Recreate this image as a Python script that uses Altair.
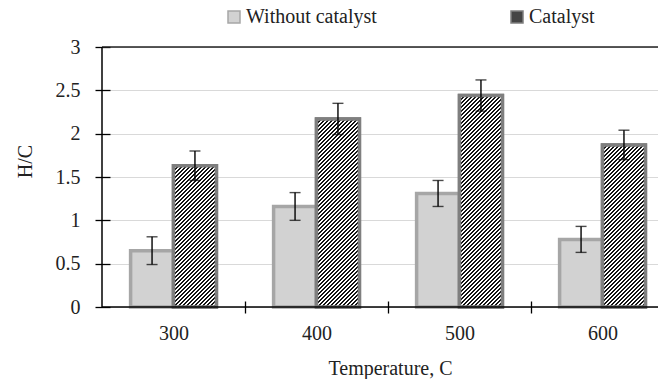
import math
import altair as alt
import pandas as pd

# ---- data ----
temps = ["300", "400", "500", "600"]
series = ["Without catalyst", "Catalyst"]
without = [0.65, 1.16, 1.31, 0.78]
without_err = [0.16, 0.16, 0.15, 0.15]
catalyst = [1.63, 2.17, 2.44, 1.87]
catalyst_err = [0.17, 0.18, 0.18, 0.17]
y_ticks = [0, 0.5, 1, 1.5, 2, 2.5, 3]

# ---- layout ----
W, H = 556, 260
XMIN, XMAX = -0.5, 3.388
BAR = 0.3
FONT = "Liberation Serif, Times New Roman, serif"
TXT = "#222222"

rows = []
for i, t in enumerate(temps):
    rows.append(dict(temp=t, idx=i, series=series[0], value=without[i], err=without_err[i],
                     x0=i - BAR, x1=i, xc=i - BAR / 2))
    rows.append(dict(temp=t, idx=i, series=series[1], value=catalyst[i], err=catalyst_err[i],
                     x0=i, x1=i + BAR, xc=i + BAR / 2))
df = pd.DataFrame(rows)
df["lo"] = df["value"] - df["err"]
df["hi"] = df["value"] + df["err"]
one = pd.DataFrame({"k": [0]})

x_scale = alt.Scale(domain=[XMIN, XMAX], nice=False, zero=False)
y_scale = alt.Scale(domain=[0, 3], nice=False)

label_map = "{" + ",".join(f"'{i}':'{t}'" for i, t in enumerate(temps)) + "}"
x_vals = sorted(set([i for i in range(len(temps))] + [i + 0.5 for i in range(len(temps) - 1)]))

x_axis = alt.Axis(
    values=x_vals, offset=-6, tickSize=12, tickWidth=1.3, tickColor="black",
    tickOpacity={"condition": {"test": "datum.value % 1 === 0", "value": 0}, "value": 1},
    domain=False, grid=False, labelFlush=False, labelOverlap=False,
    labelExpr=f"datum.value % 1 === 0 ? {label_map}[''+datum.value] : ''",
    labelPadding=10, labelFont=FONT, labelFontSize=20, labelColor=TXT,
    title="Temperature, C", titleFont=FONT, titleFontSize=20, titleFontWeight="normal",
    titleColor=TXT, titleX=288, titleY=73, titleBaseline="alphabetic",
)
y_axis = alt.Axis(
    values=y_ticks, offset=-8, tickSize=15, tickWidth=1.3, tickColor="black",
    domain=False, grid=True, gridColor="#d9d9d9", gridWidth=1, format="~g",
    labelPadding=15, labelFont=FONT, labelFontSize=20, labelColor=TXT,
    title="H/C", titleFont=FONT, titleFontSize=20, titleFontWeight="normal",
    titleColor=TXT, titleX=-85, titleY=114, titleBaseline="middle",
)

legend = alt.Legend(
    title=None, orient="none", legendX=122, legendY=-40, direction="horizontal",
    symbolType="square", symbolSize=144, symbolStrokeWidth=1.5,
    labelFont=FONT, labelFontSize=20, labelColor=TXT, labelOffset=2,
    columnPadding=130, padding=0,
)

bars = alt.Chart(df).mark_bar(strokeWidth=3.5).encode(
    x=alt.X("x0:Q", scale=x_scale, axis=x_axis),
    x2="x1:Q",
    y=alt.Y("value:Q", scale=y_scale, axis=y_axis),
    y2=alt.datum(0),
    fill=alt.Fill("series:N", scale=alt.Scale(domain=series, range=["#d2d2d2", "#454545"]), legend=legend),
    stroke=alt.Stroke("series:N", scale=alt.Scale(domain=series, range=["#a6a6a6", "#7f7f7f"]), legend=legend),
)

# striped fill for the catalyst bars (linear gradient with hard stops)
px_per_x = W / (XMAX - XMIN)
wpx = BAR * px_per_x
PERIOD = 4 / math.sqrt(2)  # 4 px horizontal repeat, 45 degree stripes


def stripe_gradient(v):
    h = v / 3 * H
    r = wpx / h
    s = (1 + r) / (1 + r * r)
    L = (wpx + h) / math.sqrt(2)
    step = PERIOD / L
    stops = []
    t = 0.0
    while t < 1:
        a = round(min(t, 1), 6)
        b = round(min(t + step * 0.5, 1), 6)
        c = round(min(t + step, 1), 6)
        stops += [alt.GradientStop(offset=a, color="#111111"),
                  alt.GradientStop(offset=b, color="#111111"),
                  alt.GradientStop(offset=b, color="#ffffff"),
                  alt.GradientStop(offset=c, color="#ffffff")]
        t += step
    return alt.LinearGradient(gradient="linear", x1=0, y1=0, x2=round(r * s, 6), y2=round(s, 6), stops=stops)


cat_layers = []
for i in range(len(temps)):
    cat_layers.append(
        alt.Chart(df).transform_filter(f"datum.series == '{series[1]}' && datum.idx == {i}")
        .mark_bar(fill=stripe_gradient(catalyst[i]), stroke="#7f7f7f", strokeWidth=3.5)
        .encode(x="x0:Q", x2="x1:Q", y="value:Q", y2=alt.datum(0))
    )

err_rule = alt.Chart(df).mark_rule(color="black", strokeWidth=1.4).encode(
    x="xc:Q", y="lo:Q", y2="hi:Q")
cap_lo = alt.Chart(df).mark_tick(color="black", thickness=1.4, size=11, orient="horizontal").encode(
    x="xc:Q", y="lo:Q")
cap_hi = alt.Chart(df).mark_tick(color="black", thickness=1.4, size=11, orient="horizontal").encode(
    x="xc:Q", y="hi:Q")

x_line = alt.Chart(one).mark_rule(color="black", strokeWidth=1.5).encode(y=alt.datum(0))
top_line = alt.Chart(one).mark_rule(color="#222222", strokeWidth=1.3).encode(y=alt.datum(3))
y_line = alt.Chart(one).mark_rule(color="black", strokeWidth=1.5).encode(x=alt.datum(XMIN))

chart = alt.layer(
    bars, *cat_layers, err_rule, cap_lo, cap_hi, x_line, top_line, y_line
).properties(
    width=W, height=H,
    autosize=alt.AutoSizeParams(type="none"),
    padding={"left": 102, "top": 47, "right": 0, "bottom": 72},
    background="white",
).configure_view(stroke=None)

chart.save("out.html", embed_options={"renderer": "svg", "actions": False})
